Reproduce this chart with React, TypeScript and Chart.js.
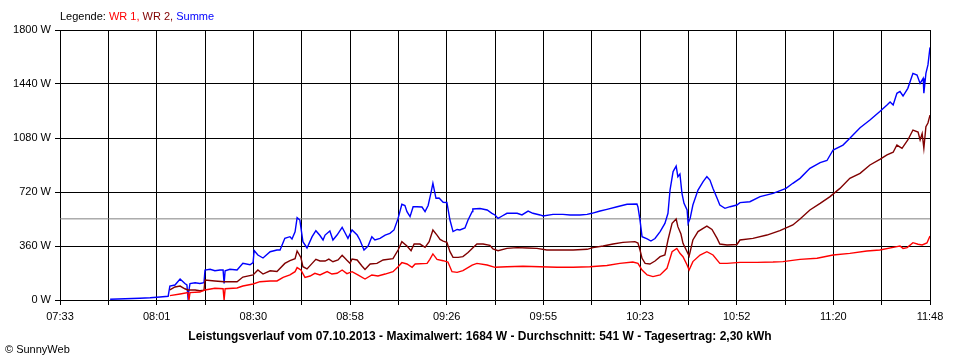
import React, { useEffect, useRef } from "react";
import { Chart, registerables } from "chart.js";

Chart.register(...registerables);

// x values: minutes after 07:33
const xTickLabels = ["07:33", "08:01", "08:30", "08:58", "09:26", "09:55", "10:23", "10:52", "11:20", "11:48"];
const xSpanMinutes = 255;
const xGridIntervals = 18;
const yMaxWatts = 1800;
const yStepWatts = 360;
const averageWatts = 541;

const summeTimes = [14.7, 19.1, 23.4, 26.4, 29.3, 31.7, 32.2, 33.7, 35.2, 36.6, 37.2, 37.5, 38.1, 39.6, 41.0, 42.2, 42.5, 44.0, 45.4, 46.9, 47.8, 48.1, 48.4, 49.8, 51.9, 53.6, 55.7, 56.6, 56.9, 58.0, 59.5, 61.6, 63.6, 64.5, 65.9, 67.4, 68.0, 68.9, 69.5, 70.3, 71.2, 72.4, 73.9, 75.0, 76.2, 77.1, 77.7, 79.1, 80.0, 81.2, 82.7, 83.5, 84.4, 85.6, 87.1, 87.9, 89.1, 90.3, 91.4, 92.3, 93.8, 95.3, 96.7, 97.9, 99.1, 100.2, 101.1, 101.7, 102.6, 103.5, 104.6, 106.1, 107.0, 107.9, 108.7, 109.3, 110.2, 111.1, 112.3, 113.4, 114.3, 115.2, 116.4, 117.2, 118.7, 119.6, 120.8, 121.0, 123.1, 125.2, 126.6, 127.5, 128.4, 129.6, 131.0, 134.0, 135.4, 137.2, 138.6, 140.7, 141.6, 144.5, 147.4, 149.5, 152.4, 154.5, 155.9, 158.3, 160.3, 163.3, 166.2, 169.1, 169.4, 170.0, 170.6, 172.1, 173.2, 174.4, 175.9, 177.3, 178.2, 178.8, 179.7, 180.6, 181.1, 181.7, 182.3, 182.9, 183.8, 184.1, 184.7, 185.5, 187.0, 188.5, 189.6, 190.5, 191.4, 192.6, 193.4, 194.9, 196.4, 198.4, 199.3, 202.2, 205.2, 209.0, 212.8, 214.8, 216.9, 219.8, 222.8, 224.8, 226.6, 229.5, 231.5, 234.5, 237.4, 240.3, 242.4, 243.3, 244.2, 245.3, 246.2, 247.1, 248.5, 250.0, 251.2, 252.1, 253.0, 253.2, 253.8, 254.4, 255.0];
const summeWatts = [5, 8, 12, 15, 20, 25, 93, 100, 140, 110, 100, 20, 110, 115, 110, 115, 200, 205, 195, 200, 200, 110, 195, 205, 200, 245, 235, 250, 330, 300, 280, 322, 333, 333, 411, 422, 407, 455, 549, 533, 389, 347, 422, 462, 430, 400, 433, 460, 400, 433, 484, 450, 411, 467, 433, 400, 333, 360, 422, 400, 411, 433, 444, 467, 544, 638, 630, 589, 556, 622, 622, 620, 589, 630, 711, 778, 678, 680, 651, 650, 533, 456, 470, 467, 480, 533, 589, 607, 610, 600, 578, 567, 544, 560, 578, 578, 567, 593, 578, 567, 560, 571, 571, 567, 567, 571, 578, 593, 604, 622, 638, 640, 620, 533, 422, 407, 393, 410, 456, 511, 578, 733, 856, 893, 822, 840, 711, 644, 600, 511, 544, 633, 733, 789, 822, 800, 744, 678, 633, 611, 622, 633, 649, 655, 689, 711, 744, 778, 811, 878, 916, 930, 1000, 1033, 1078, 1149, 1200, 1256, 1300, 1320, 1300, 1378, 1390, 1360, 1411, 1511, 1500, 1444, 1478, 1378, 1511, 1567, 1684];

const wr2Times = [32.2, 33.7, 35.2, 36.6, 37.5, 39.6, 41.0, 42.2, 42.5, 45.4, 48.1, 51.9, 53.6, 56.6, 58.0, 59.5, 61.6, 63.6, 65.9, 67.4, 68.9, 69.5, 70.6, 71.2, 72.4, 73.9, 75.0, 76.2, 77.7, 78.8, 80.0, 81.5, 82.7, 84.1, 85.0, 85.6, 87.1, 88.5, 89.4, 90.9, 92.9, 94.7, 97.6, 99.1, 100.2, 101.7, 102.9, 103.8, 105.5, 107.0, 108.2, 109.3, 110.5, 111.4, 112.3, 113.4, 114.3, 115.2, 116.7, 118.1, 119.6, 120.8, 122.2, 124.0, 126.0, 126.9, 128.4, 131.0, 134.0, 136.9, 139.8, 142.7, 146.6, 150.4, 154.5, 156.2, 159.2, 162.1, 165.0, 168.5, 169.4, 170.0, 170.6, 171.5, 172.9, 174.4, 175.9, 177.3, 178.2, 179.4, 180.6, 181.1, 182.0, 182.6, 183.8, 184.4, 185.5, 187.0, 188.5, 189.6, 191.1, 192.6, 193.4, 195.5, 198.4, 199.3, 203.1, 207.2, 211.0, 214.8, 216.9, 219.8, 222.8, 225.7, 228.6, 231.5, 234.5, 237.4, 240.3, 242.4, 244.2, 245.3, 246.8, 248.5, 250.0, 251.5, 252.1, 252.7, 253.2, 253.8, 254.4, 255.0];
const wr2Watts = [67, 87, 93, 75, 67, 67, 62, 65, 133, 127, 122, 122, 153, 167, 200, 173, 195, 190, 244, 262, 275, 327, 284, 222, 207, 244, 271, 260, 260, 273, 255, 267, 298, 265, 245, 273, 267, 227, 204, 240, 244, 267, 276, 333, 389, 360, 329, 373, 373, 351, 389, 467, 433, 404, 393, 385, 322, 284, 284, 289, 316, 344, 373, 373, 364, 340, 329, 344, 349, 347, 344, 333, 333, 333, 338, 349, 360, 373, 384, 389, 380, 333, 278, 244, 240, 260, 289, 300, 400, 511, 540, 489, 440, 378, 322, 293, 400, 456, 478, 493, 470, 411, 373, 367, 370, 400, 411, 433, 462, 500, 540, 600, 644, 689, 744, 811, 844, 900, 938, 967, 985, 1033, 1011, 1067, 1133, 1120, 1067, 1110, 1011, 1156, 1180, 1233];

const wr1Times = [32.2, 35.2, 37.5, 37.8, 38.1, 41.0, 42.5, 45.4, 47.8, 48.1, 48.4, 51.9, 53.6, 56.6, 58.6, 61.6, 63.6, 65.4, 67.4, 68.9, 69.5, 70.6, 71.8, 73.3, 74.7, 76.2, 78.3, 79.7, 81.2, 82.7, 84.1, 85.6, 87.3, 89.4, 91.4, 93.2, 95.3, 97.6, 99.1, 100.2, 101.7, 103.2, 104.1, 107.6, 108.4, 109.3, 110.5, 112.3, 113.7, 114.9, 116.4, 118.1, 120.8, 122.2, 125.2, 127.5, 131.0, 135.7, 140.7, 145.7, 150.4, 155.3, 160.3, 164.1, 167.9, 169.4, 170.6, 172.1, 173.8, 175.9, 177.9, 179.4, 180.8, 181.7, 182.6, 183.8, 184.4, 185.5, 187.6, 189.6, 191.4, 193.4, 195.5, 199.3, 204.3, 209.0, 211.9, 216.9, 221.9, 226.6, 231.5, 236.5, 240.3, 245.3, 246.2, 247.1, 248.3, 250.0, 251.5, 252.7, 254.1, 255.0];
const wr1Watts = [29, 40, 49, 0, 49, 53, 67, 78, 75, 0, 75, 80, 93, 107, 122, 127, 127, 151, 167, 189, 216, 200, 151, 160, 178, 167, 189, 173, 178, 200, 176, 189, 167, 140, 167, 160, 173, 189, 222, 249, 240, 218, 240, 244, 271, 307, 271, 262, 253, 189, 184, 196, 233, 244, 233, 218, 222, 225, 222, 218, 218, 222, 230, 244, 253, 244, 200, 167, 156, 167, 211, 322, 344, 311, 289, 233, 200, 256, 300, 322, 300, 244, 244, 251, 251, 253, 256, 271, 278, 300, 311, 327, 333, 356, 360, 344, 349, 382, 372, 367, 380, 427];

const FONT = "'Liberation Sans', Arial, sans-serif";

const toPoints = (times: number[], watts: number[]) => times.map((t, i) => ({ x: t, y: watts[i] }));

export default function App() {
  const canvasRef = useRef<HTMLCanvasElement>(null);

  useEffect(() => {
    document.body.style.margin = "0";
    const canvas = canvasRef.current;
    if (!canvas) return;
    const chart = new Chart(canvas, {
      type: "line",
      data: {
        datasets: [
          { label: "WR 1", data: toPoints(wr1Times, wr1Watts), borderColor: "#ff0000", borderWidth: 1.4, pointRadius: 0, tension: 0 },
          { label: "WR 2", data: toPoints(wr2Times, wr2Watts), borderColor: "#800000", borderWidth: 1.4, pointRadius: 0, tension: 0 },
          { label: "Summe", data: toPoints(summeTimes, summeWatts), borderColor: "#0000ff", borderWidth: 1.4, pointRadius: 0, tension: 0 },
          { label: "Durchschnitt", data: [{ x: 0, y: averageWatts }, { x: xSpanMinutes, y: averageWatts }], borderColor: "#808080", borderWidth: 1, pointRadius: 0, tension: 0 },
        ],
      },
      options: {
        animation: false,
        responsive: false,
        devicePixelRatio: 1,
        layout: { padding: { top: 30, right: 30, left: 0, bottom: 0 } },
        plugins: { legend: { display: false }, tooltip: { enabled: false }, title: { display: false } },
        scales: {
          x: {
            type: "linear",
            min: 0,
            max: xSpanMinutes,
            afterFit: (s: any) => { s.height = 60; },
            afterBuildTicks: (s: any) => {
              s.ticks = Array.from({ length: xGridIntervals + 1 }, (_, i) => ({ value: (i * xSpanMinutes) / xGridIntervals }));
            },
            ticks: {
              autoSkip: false,
              maxRotation: 0,
              minRotation: 0,
              padding: 5,
              color: "#000",
              font: { family: FONT, size: 11 },
              callback: (_v: any, i: number) => (i % 2 === 0 ? xTickLabels[i / 2] : ""),
            },
            grid: { color: "#000", lineWidth: 1, tickLength: 5, drawTicks: true },
            border: { color: "#000", width: 1 },
          },
          y: {
            min: 0,
            max: yMaxWatts,
            afterFit: (s: any) => { s.width = 60; },
            ticks: {
              stepSize: yStepWatts,
              padding: 4,
              color: "#000",
              font: { family: FONT, size: 11 },
              callback: (v: any) => `${v} W`,
            },
            grid: { color: "#000", lineWidth: 1, tickLength: 5, drawTicks: true },
            border: { color: "#000", width: 1 },
          },
        },
      },
    });
    return () => chart.destroy();
  }, []);

  const textStyle: React.CSSProperties = { position: "absolute", fontFamily: FONT, fontSize: 11, lineHeight: "13px", whiteSpace: "nowrap", color: "#000" };

  return (
    <div style={{ position: "relative", width: 960, height: 360, background: "#fff", overflow: "hidden" }}>
      <canvas ref={canvasRef} width={960} height={360} style={{ display: "block" }} />
      <div style={{ ...textStyle, left: 60, top: 10 }}>
        Legende: <span style={{ color: "#ff0000" }}>WR 1,</span> <span style={{ color: "#800000" }}>WR 2,</span>{" "}
        <span style={{ color: "#0000ff" }}>Summe</span>
      </div>
      <div style={{ ...textStyle, left: 0, width: 960, top: 329, fontSize: 12, lineHeight: "14px", textAlign: "center", fontWeight: "bold" }}>
        Leistungsverlauf vom 07.10.2013 - Maximalwert: 1684 W - Durchschnitt: 541 W - Tagesertrag: 2,30 kWh
      </div>
      <div style={{ ...textStyle, left: 5, top: 343 }}>© SunnyWeb</div>
    </div>
  );
}
